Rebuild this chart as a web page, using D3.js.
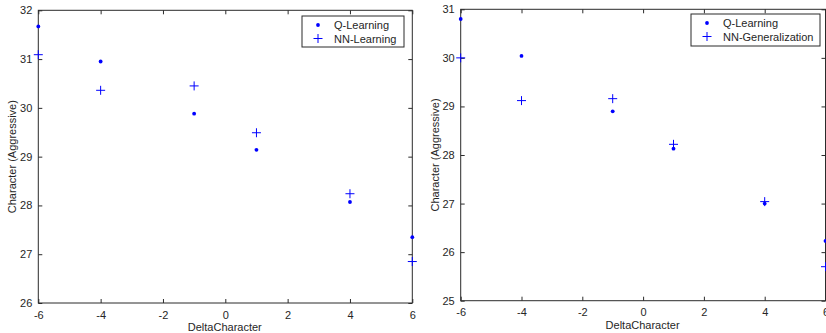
<!DOCTYPE html>
<html>
<head>
<meta charset="utf-8">
<script src="https://cdn.jsdelivr.net/npm/d3@7"></script>
<style>
  html, body { margin: 0; padding: 0; background: #fff; overflow: hidden; }
  text { font-family: "Liberation Sans", Arial, sans-serif; }
</style>
</head>
<body>
<svg id="chart" width="826" height="333"></svg>
<script>
// ---- data ----
const deltaCharacter = [-6, -4, -1, 1, 4, 6];

const leftQLearning  = [31.67, 30.95, 29.88, 29.14, 28.07, 27.35];
const leftNNLearning = [31.09, 30.36, 30.45, 29.49, 28.24, 26.85];

const rightQLearning        = [30.80, 30.04, 28.90, 28.13, 27.00, 26.23];
const rightNNGeneralization = [30.00, 29.12, 29.16, 28.22, 27.04, 25.70];

const xTicks = [-6, -4, -2, 0, 2, 4, 6];
const leftYTicks  = [26, 27, 28, 29, 30, 31, 32];
const rightYTicks = [25, 26, 27, 28, 29, 30, 31];

const xLabel = "DeltaCharacter";
const yLabel = "Character (Aggressive)";

const panels = [
  { box: { x0: 38.3, x1: 412.3, y0: 10.3, y1: 303 }, yDomain: [26, 32], yTicks: leftYTicks,
    series: [ { name: "Q-Learning", values: leftQLearning, marker: "dot" },
              { name: "NN-Learning", values: leftNNLearning, marker: "plus" } ],
    legend: { x: 302, y: 16, w: 102, h: 31 }, yLabelX: 12 },
  { box: { x0: 460.7, x1: 825.5, y0: 9.3, y1: 300.7 }, yDomain: [25, 31], yTicks: rightYTicks,
    series: [ { name: "Q-Learning", values: rightQLearning, marker: "dot" },
              { name: "NN-Generalization", values: rightNNGeneralization, marker: "plus" } ],
    legend: { x: 691, y: 14, w: 129, h: 32 }, yLabelX: 435 }
];

const svg = d3.select("#chart");
const frameColor = "#2b2b2b";
const textColor = "#262626";
const markColor = "#0000ff";
const tickLen = 4;
const fmt = d => String(d);

function drawMarker(g, type, cx, cy) {
  if (type === "dot") {
    g.append("circle").attr("cx", cx).attr("cy", cy).attr("r", 1.9).attr("fill", markColor);
  } else {
    const a = 4.5;
    g.append("path")
      .attr("d", `M${cx - a},${cy}H${cx + a}M${cx},${cy - a}V${cy + a}`)
      .attr("stroke", markColor).attr("stroke-width", 1).attr("fill", "none");
  }
}

panels.forEach(p => {
  const b = p.box;
  const x = d3.scaleLinear().domain([-6, 6]).range([b.x0, b.x1]);
  const y = d3.scaleLinear().domain(p.yDomain).range([b.y1, b.y0]);
  const g = svg.append("g");

  const bottom = g.append("g").attr("transform", `translate(0,${b.y1})`)
    .call(d3.axisBottom(x).tickValues(xTicks).tickSizeInner(-tickLen).tickSizeOuter(0).tickPadding(8).tickFormat(fmt));
  const top = g.append("g").attr("transform", `translate(0,${b.y0})`)
    .call(d3.axisTop(x).tickValues(xTicks).tickSizeInner(-tickLen).tickSizeOuter(0).tickFormat(""));
  const left = g.append("g").attr("transform", `translate(${b.x0},0)`)
    .call(d3.axisLeft(y).tickValues(p.yTicks).tickSizeInner(-tickLen).tickSizeOuter(0).tickPadding(6).tickFormat(fmt));
  const right = g.append("g").attr("transform", `translate(${b.x1},0)`)
    .call(d3.axisRight(y).tickValues(p.yTicks).tickSizeInner(-tickLen).tickSizeOuter(0).tickFormat(""));

  [bottom, top, left, right].forEach(ax => {
    ax.select(".domain").remove();
    ax.selectAll(".tick line").attr("stroke", frameColor);
    ax.selectAll(".tick text").attr("fill", textColor).style("font-size", "11px")
      .style("font-family", '"Liberation Sans", Arial, sans-serif');
  });

  g.append("rect").attr("x", b.x0).attr("y", b.y0).attr("width", b.x1 - b.x0).attr("height", b.y1 - b.y0)
    .attr("fill", "none").attr("stroke", frameColor).attr("stroke-width", 1);

  p.series.forEach(s => {
    deltaCharacter.forEach((dx, i) => drawMarker(g, s.marker, x(dx), y(s.values[i])));
  });

  g.append("text").attr("x", (b.x0 + b.x1) / 2 - 0.5).attr("y", b.y1 + 28)
    .attr("text-anchor", "middle").attr("fill", textColor).style("font-size", "11px").text(xLabel);
  g.append("text").attr("transform", `translate(${p.yLabelX + 4},${(b.y0 + b.y1) / 2}) rotate(-90)`)
    .attr("text-anchor", "middle").attr("fill", textColor).style("font-size", "11px").text(yLabel);

  const L = p.legend;
  g.append("rect").attr("x", L.x).attr("y", L.y).attr("width", L.w).attr("height", L.h)
    .attr("fill", "#fff").attr("stroke", frameColor).attr("stroke-width", 1);
  p.series.forEach((s, i) => {
    const cy = L.y + 9 + i * 13.5;
    drawMarker(g, s.marker, L.x + 16, cy);
    g.append("text").attr("x", L.x + 32).attr("y", cy + 4).attr("fill", textColor)
      .style("font-size", "11px").text(s.name);
  });
});
</script>
</body>
</html>
